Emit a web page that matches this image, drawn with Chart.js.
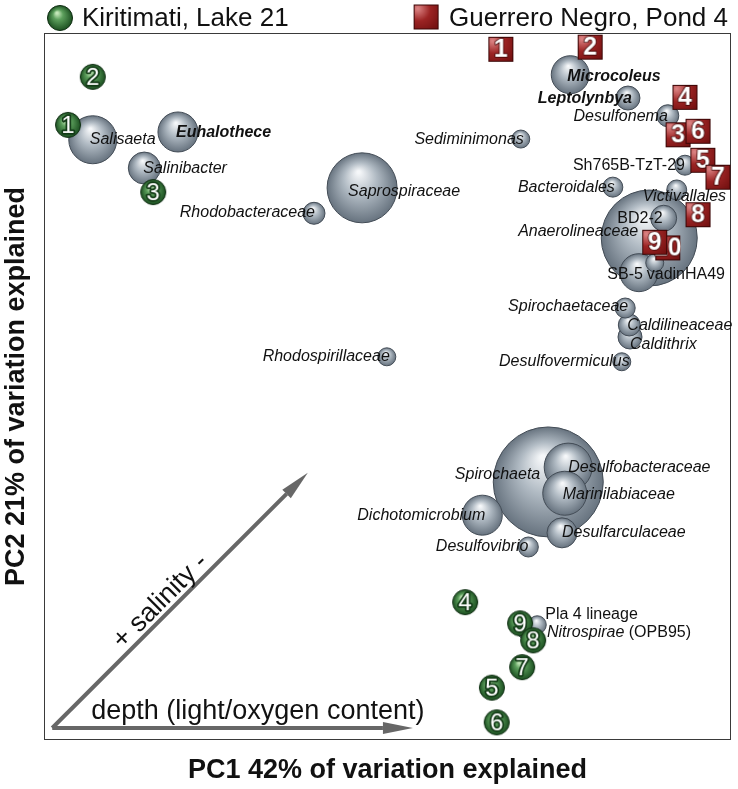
<!DOCTYPE html>
<html lang="en">
<head>
  <meta charset="UTF-8" />
  <title>Mat community PCA biplot</title>
  <script src="https://cdn.jsdelivr.net/npm/chart.js"></script>
  <style>
    html, body { margin: 0; padding: 0; background: #fff; }
    #wrap { width: 738px; height: 789px; }
  </style>
</head>
<body>
  <div id="wrap"><canvas id="pcaChart"></canvas></div>

  <script>
    const FONT = '"Liberation Sans", Arial, Helvetica, sans-serif';

    // taxa (grey bubbles) - PC scores rescaled to 0..100, size ~ relative abundance
    const taxa = ['Spirochaeta', 'Anaerolineaceae', 'Saprospiraceae', 'Salisaeta', 'Desulfobacteraceae',
      'Marinilabiaceae', 'Euhalothece', 'Dichotomicrobium', 'Microcoleus', 'SB-5', 'Salinibacter',
      'Desulfarculaceae', 'BD2-2', 'Leptolynbya', 'Caldithrix', 'Caldilineaceae', 'Desulfonema',
      'Rhodobacteraceae', 'Sh765B-TzT-29', 'Bacteroidales', 'Victivallales', 'Spirochaetaceae',
      'Desulfovibrio', 'Nitrospirae (OPB95)', 'Sediminimonas', 'vadinHA49', 'Desulfovermiculus',
      'Rhodospirillaceae', 'Pla 4 lineage'];
    const taxaPC1 = [73.4, 88.1, 46.3, 7.1, 76.3, 75.8, 19.5, 63.8, 76.6, 86.6, 14.6, 75.4, 90.2, 85.0,
      85.3, 85.2, 90.8, 39.3, 93.3, 82.8, 92.1, 84.6, 70.5, 70.3, 69.4, 88.9, 84.1, 49.9, 71.8];
    const taxaPC2 = [36.5, 71.0, 78.1, 84.9, 38.6, 34.9, 86.0, 31.8, 94.1, 66.1, 80.9, 29.3, 73.8, 90.8,
      57.0, 58.7, 88.3, 74.5, 81.3, 78.2, 77.8, 61.1, 27.3, 15.6, 85.0, 67.5, 53.5, 54.2, 16.3];
    const taxaSize = [55, 48, 35, 24, 24, 22, 20, 20, 19, 19, 16, 15, 13, 12, 12, 11, 11, 11, 10, 10, 10,
      10, 10, 10, 9, 9, 9, 9, 9];

    // Kiritimati, Lake 21 samples
    const kiriSamples = ['1', '2', '3', '4', '5', '6', '7', '9', '8'];
    const kiriPC1 = [3.5, 7.1, 15.9, 61.3, 65.2, 65.9, 69.6, 69.3, 71.2];
    const kiriPC2 = [87.0, 93.8, 77.5, 19.5, 7.4, 2.5, 10.3, 16.5, 14.1];

    // Guerrero Negro, Pond 4 samples
    const gnSamples = ['1', '2', '3', '4', '5', '6', '7', '8', '10', '9'];
    const gnPC1 = [66.5, 79.5, 92.3, 93.3, 95.9, 95.2, 98.1, 95.2, 90.8, 88.9];
    const gnPC2 = [97.7, 98.0, 85.6, 90.9, 82.0, 86.1, 79.6, 74.3, 69.6, 70.4];

    // label placement: [align, dx, dy, style]
    const labelLayout = {
      'Spirochaeta': ['right', -8, -7, 'i'],
      'Anaerolineaceae': ['right', -11, -6, 'i'],
      'Saprospiraceae': ['left', -14, 4, 'i'],
      'Salisaeta': ['left', -3, 0, 'i'],
      'Desulfobacteraceae': ['left', 0, 0, 'i'],
      'Marinilabiaceae': ['left', -2, 1, 'i'],
      'Euhalothece': ['left', -2, 1, 'bi'],
      'Dichotomicrobium': ['right', 3, 0, 'i'],
      'Microcoleus': ['left', -3, 2, 'bi'],
      'SB-5': ['right', 4, 2, 'n'],
      'Salinibacter': ['left', -1, 1, 'i'],
      'Desulfarculaceae': ['left', 0, 0, 'i'],
      'BD2-2': ['right', -1, 0, 'n'],
      'Leptolynbya': ['right', 4, 1, 'bi'],
      'Caldithrix': ['left', 0, 8, 'i'],
      'Caldilineaceae': ['left', -2, 1, 'i'],
      'Desulfonema': ['right', 0, 1, 'i'],
      'Rhodobacteraceae': ['right', 1, -1, 'i'],
      'Sh765B-TzT-29': ['right', 0, 0, 'n'],
      'Bacteroidales': ['right', 2, 0, 'i'],
      'Victivallales': ['left', -34, 7, 'i'],
      'Spirochaetaceae': ['right', 3, -1, 'i'],
      'Desulfovibrio': ['right', 0, 0, 'i'],
      'Nitrospirae (OPB95)': ['left', 20, 3, 'mixed'],
      'Sediminimonas': ['right', 3, 0, 'i'],
      'vadinHA49': ['left', -8, 12, 'n'],
      'Desulfovermiculus': ['right', 8, 0, 'i'],
      'Rhodospirillaceae': ['right', 3, 0, 'i'],
      'Pla 4 lineage': ['left', 8, -10, 'n']
    };

    // environmental gradients drawn as arrows (data units)
    const envArrows = [
      { label: 'depth (light/oxygen content)', from: [1.2, 1.7], to: [53.7, 1.7], t: 0.57, offset: 16 },
      { label: '+ salinity -', from: [1.2, 1.7], to: [38.4, 37.8], t: 0.46, offset: 13 }
    ];

    function sampleIcon(kind, num) {
      const s = kind === 'kiri' ? 28 : 27;
      const c = document.createElement('canvas');
      c.width = s; c.height = s;
      const g = c.getContext('2d');
      if (kind === 'kiri') {
        const r = 12.5, m = s / 2;
        const grd = g.createRadialGradient(m - 3, m - 5, 1, m, m, r);
        grd.addColorStop(0, '#c3e6b8');
        grd.addColorStop(0.35, '#5c9f5c');
        grd.addColorStop(1, '#1c5021');
        g.beginPath(); g.arc(m, m, r, 0, Math.PI * 2);
        g.fillStyle = grd; g.fill();
        g.lineWidth = 1; g.strokeStyle = '#0e2c11'; g.stroke();
      } else {
        const grd = g.createRadialGradient(5, 5, 1, 8, 8, 27);
        grd.addColorStop(0, '#d98080');
        grd.addColorStop(0.4, '#9c2424');
        grd.addColorStop(1, '#660b0b');
        g.fillStyle = grd;
        g.fillRect(1, 1, s - 2, s - 2);
        g.lineWidth = 1; g.strokeStyle = '#3a0505';
        g.strokeRect(1.5, 1.5, s - 3, s - 3);
      }
      if (num) {
        g.textAlign = 'center';
        g.textBaseline = 'middle';
        g.lineJoin = 'round';
        if (kind === 'kiri') {
          g.font = '24px ' + FONT;
          g.strokeStyle = '#123a16'; g.lineWidth = 3.5;
          g.strokeText(num, s / 2, s / 2 + 1);
        } else {
          g.font = 'bold 25px ' + FONT;
          g.strokeStyle = '#3a0505'; g.lineWidth = 1.5;
          g.strokeText(num, s / 2, s / 2 + 1);
        }
        g.fillStyle = '#fff';
        g.fillText(num, s / 2, s / 2 + 1);
      }
      return c;
    }

    const kiriIcons = kiriSamples.map(n => sampleIcon('kiri', n));
    const gnIcons = gnSamples.map(n => sampleIcon('gn', n));

    function bubbleFill(c) {
      const chart = c.chart;
      if (c.type !== 'data' || !chart.chartArea) return '#a6b0ba';
      const px = chart.scales.x.getPixelForValue(taxaPC1[c.dataIndex]);
      const py = chart.scales.y.getPixelForValue(taxaPC2[c.dataIndex]);
      const r = taxaSize[c.dataIndex];
      const g = chart.ctx.createRadialGradient(px - r * 0.1, py - r * 0.45, r * 0.04, px, py, r);
      g.addColorStop(0, '#f5f7f9');
      g.addColorStop(0.45, '#b0bac3');
      g.addColorStop(1, '#67737f');
      return g;
    }

    const biplotDecor = {
      id: 'biplotDecor',
      beforeDatasetsDraw(chart) {
        const { ctx, chartArea: a, scales: { x, y } } = chart;
        ctx.save();
        ctx.strokeStyle = '#3a3a3a';
        ctx.lineWidth = 1;
        ctx.strokeRect(a.left + 0.5, a.top + 0.5, a.width - 1, a.height - 1);

        envArrows.forEach(ar => {
          const x0 = x.getPixelForValue(ar.from[0]), y0 = y.getPixelForValue(ar.from[1]);
          const x1 = x.getPixelForValue(ar.to[0]), y1 = y.getPixelForValue(ar.to[1]);
          const ang = Math.atan2(y1 - y0, x1 - x0);
          const cos = Math.cos(ang), sin = Math.sin(ang);
          const head = 30, half = 6;
          ctx.strokeStyle = '#676767';
          ctx.fillStyle = '#676767';
          ctx.lineWidth = 4;
          ctx.beginPath();
          ctx.moveTo(x0, y0);
          ctx.lineTo(x1 - head * cos, y1 - head * sin);
          ctx.stroke();
          ctx.beginPath();
          ctx.moveTo(x1, y1);
          ctx.lineTo(x1 - head * cos + half * sin, y1 - head * sin - half * cos);
          ctx.lineTo(x1 - head * cos - half * sin, y1 - head * sin + half * cos);
          ctx.closePath();
          ctx.fill();

          ctx.save();
          ctx.translate(x0 + (x1 - x0) * ar.t, y0 + (y1 - y0) * ar.t);
          ctx.rotate(ang);
          ctx.font = '27px ' + FONT;
          ctx.fillStyle = '#111';
          ctx.textAlign = 'center';
          ctx.textBaseline = 'middle';
          ctx.fillText(ar.label, 0, -ar.offset);
          ctx.restore();
        });
        ctx.restore();
      },
      afterDatasetDraw(chart, args) {
        if (args.meta.label !== 'taxa') return;
        const ctx = chart.ctx;
        ctx.save();
        ctx.fillStyle = '#111';
        ctx.textBaseline = 'middle';
        args.meta.data.forEach((pt, i) => {
          const name = taxa[i];
          const [align, dx, dy, style] = labelLayout[name];
          const lx = pt.x + dx, ly = pt.y + dy;
          if (style === 'mixed') {
            const parts = name.split(' (');
            ctx.textAlign = 'left';
            ctx.font = 'italic 16px ' + FONT;
            ctx.fillText(parts[0], lx, ly);
            const w = ctx.measureText(parts[0]).width;
            ctx.font = '16px ' + FONT;
            ctx.fillText(' (' + parts[1], lx + w, ly);
            return;
          }
          ctx.textAlign = align;
          ctx.font = (style === 'bi' ? 'italic bold ' : style === 'i' ? 'italic ' : '') + '16px ' + FONT;
          ctx.fillText(name, lx, ly);
        });
        ctx.restore();
      },
      afterDraw(chart) {
        const { ctx, chartArea: a } = chart;
        ctx.save();
        ctx.font = '26px ' + FONT;
        ctx.fillStyle = '#111';
        ctx.textBaseline = 'middle';
        ctx.textAlign = 'left';
        const legY = 18;
        const k = sampleIcon('kiri');
        ctx.drawImage(k, a.left + 16 - k.width / 2, legY - k.height / 2);
        ctx.fillText('Kiritimati, Lake 21', a.left + 38, legY + 1);

        const gText = 'Guerrero Negro, Pond 4';
        const tw = ctx.measureText(gText).width;
        const tx = a.right - 3 - tw;
        const q = sampleIcon('gn');
        ctx.drawImage(q, tx - 23 - q.width / 2, legY - 1 - q.height / 2);
        ctx.fillText(gText, tx, legY + 1);
        ctx.restore();
      }
    };

    const axisTitle = text => ({
      display: true,
      text: text,
      color: '#111',
      font: { family: FONT, size: 27, weight: 'bold', lineHeight: 1 }
    });

    new Chart(document.getElementById('pcaChart'), {
      type: 'bubble',
      data: {
        datasets: [
          {
            label: 'Guerrero Negro, Pond 4',
            data: gnSamples.map((s, i) => ({ x: gnPC1[i], y: gnPC2[i] })),
            radius: 13,
            pointStyle: gnIcons,
            order: 1,
            clip: false
          },
          {
            label: 'Kiritimati, Lake 21',
            data: kiriSamples.map((s, i) => ({ x: kiriPC1[i], y: kiriPC2[i] })),
            radius: 13,
            pointStyle: kiriIcons,
            order: 2,
            clip: false
          },
          {
            label: 'taxa',
            data: taxa.map((t, i) => ({ x: taxaPC1[i], y: taxaPC2[i], r: taxaSize[i] })),
            backgroundColor: bubbleFill,
            borderColor: '#434c56',
            borderWidth: 1,
            order: 3,
            clip: false
          }
        ]
      },
      options: {
        responsive: true,
        maintainAspectRatio: false,
        animation: false,
        events: [],
        layout: { autoPadding: false, padding: { top: 33, right: 7, left: 0, bottom: 0 } },
        plugins: {
          legend: { display: false },
          tooltip: { enabled: false }
        },
        scales: {
          x: {
            type: 'linear', min: 0, max: 100,
            grid: { display: false },
            border: { display: false },
            ticks: { display: false },
            title: Object.assign(axisTitle('PC1 42% of variation explained'), { padding: { top: 0, bottom: 5 } }),
            afterFit(scale) { scale.height = 49; }
          },
          y: {
            type: 'linear', min: 0, max: 100,
            grid: { display: false },
            border: { display: false },
            ticks: { display: false },
            title: Object.assign(axisTitle('PC2 21% of variation explained'), { padding: { top: 3, bottom: 0 } }),
            afterFit(scale) { scale.width = 44; }
          }
        }
      },
      plugins: [biplotDecor]
    });
  </script>
</body>
</html>
